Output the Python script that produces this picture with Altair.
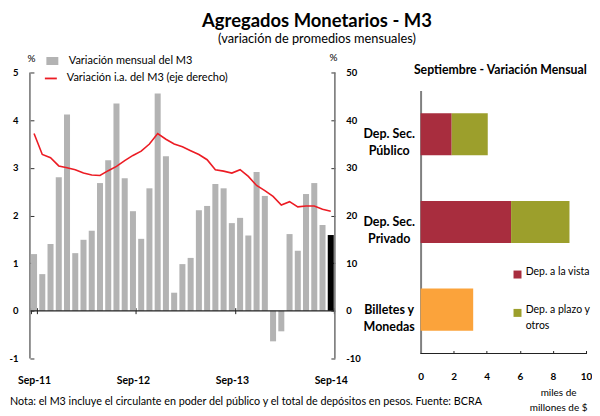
import altair as alt
import pandas as pd

FONT = "Lato"

# ---------------- data ----------------
mes_abrev = ["Sep", "Oct", "Nov", "Dic", "Ene", "Feb", "Mar", "Abr", "May", "Jun", "Jul", "Ago"]
meses = [f"{mes_abrev[i % 12]}-{11 + (i + 8) // 12}" for i in range(37)]
meses_etiqueta = ["Sep-11", "Sep-12", "Sep-13", "Sep-14"]

var_mensual = [1.19, 0.77, 1.40, 2.80, 4.12, 1.21, 1.49, 1.68, 2.68, 3.16, 4.35, 2.78,
               2.09, 1.51, 2.57, 4.56, 3.24, 0.38, 0.98, 1.11, 2.11, 2.20, 2.66, 2.57,
               1.84, 1.95, 1.58, 2.91, 2.41, -0.64, -0.43, 1.61, 1.26, 2.45, 2.68, 1.80,
               1.59]
var_ia = [37.2, 32.8, 32.1, 30.4, 30.0, 29.6, 28.9, 28.5, 28.4, 29.4, 30.3, 31.5,
          32.6, 33.5, 35.0, 37.2, 36.0, 35.0, 34.4, 33.6, 32.8, 31.7, 29.6, 29.3,
          28.9, 29.6, 28.2, 26.3, 25.2, 24.0, 22.2, 22.9, 21.8, 22.0, 22.0, 21.3,
          20.9]
serie_barras = "Variación mensual del M3"
serie_linea = "Variación i.a. del M3 (eje derecho)"

categorias = ["Dep. Sec. Público", "Dep. Sec. Privado", "Billetes y Monedas"]
componentes = ["Dep. a la vista", "Dep. a plazo y otros", "Billetes y Monedas"]
colores = ["#A82D3E", "#9C9F2C", "#FBA33B"]
dep_vista = [1.88, 5.47, 0.0]
dep_plazo = [2.18, 3.53, 0.0]
billetes = [0.0, 0.0, 3.18]
ticks_x_der = [0, 2, 4, 6, 8, 10]

nota = "Nota: el M3 incluye el circulante en poder del público y el total de depósitos en pesos. Fuente: BCRA"

df = pd.DataFrame({"mes": meses, "mensual": var_mensual, "ia": var_ia, "idx": list(range(37)),
                   "s_bar": serie_barras, "s_lin": serie_linea})

rows = []
for c, a, b, m in zip(categorias, dep_vista, dep_plazo, billetes):
    for k, (comp, v) in enumerate(zip(componentes, [a, b, m])):
        if v > 0:
            rows.append({"categoria": c, "componente": comp, "valor": v, "orden": k})
rdf = pd.DataFrame(rows)

# ---------------- left panel ----------------
x_left = alt.X(
    "mes:N", title=None,
    scale=alt.Scale(domain=meses, paddingInner=0.27, paddingOuter=0.135),
    axis=alt.Axis(values=meses_etiqueta, tickBand="extent", labelAngle=0, domain=False,
                  tickSize=6, tickColor="#222", tickWidth=1, offset=-51, labelPadding=62,
                  labelFontSize=10.5, labelFontWeight="bold", labelColor="black"),
)
y_left = alt.Y(
    "mensual:Q",
    scale=alt.Scale(domain=[-1, 5], nice=False, zero=False),
    axis=alt.Axis(values=[-1, 0, 1, 2, 3, 4, 5], labelExpr="'' + datum.value", domain=False,
                  tickSize=4, offset=-4, tickColor="#333", labelPadding=12,
                  labelFontSize=9.5, labelFontWeight="bold", labelColor="black",
                  title="%", titleAngle=0, titleX=-3, titleY=-14, titleAlign="center",
                  titleBaseline="middle", titleFontSize=10, titleFontWeight="normal"),
)

bars = alt.Chart(df).transform_filter("datum.idx < 36").mark_bar(strokeWidth=0).encode(
    x=x_left, y=y_left,
    fill=alt.Fill(
        "s_bar:N",
        scale=alt.Scale(domain=[serie_barras], range=["#B3B3B3"]),
        legend=alt.Legend(title=None, orient="none", legendX=17, legendY=-17,
                          symbolType="M-1.5,-1H1.5V1H-1.5Z", symbolSize=64,
                          labelOffset=11, labelFontSize=11, labelFont=FONT, labelLimit=300,
                          padding=0, symbolStrokeWidth=0),
    ),
)
last_bar = alt.Chart(df).transform_filter("datum.idx == 36").mark_bar(color="black").encode(
    x=x_left, y=y_left
)

zero_df = pd.DataFrame({"z": [0], "lo": [-1], "hi": [5]})
zero_line = alt.Chart(zero_df).mark_rule(color="#222", strokeWidth=1.2).encode(y="z:Q")
dom_left = alt.Chart(zero_df).mark_rule(color="#777", strokeWidth=1.6).encode(
    x=alt.value(0), y="lo:Q", y2="hi:Q")
dom_right = alt.Chart(zero_df).mark_rule(color="#777", strokeWidth=1.6).encode(
    x=alt.value(306), y="lo:Q", y2="hi:Q")

note_text = alt.Chart(pd.DataFrame({"t": [nota]})).mark_text(
    align="left", baseline="middle", fontSize=10.8, font=FONT, color="black"
).encode(x=alt.value(-20), y=alt.value(331), text="t:N")

left_inner = alt.layer(bars, last_bar, zero_line, dom_left, dom_right, note_text)

line = alt.Chart(df).mark_line(strokeWidth=1.6).encode(
    x=x_left,
    y=alt.Y("ia:Q",
            scale=alt.Scale(domain=[-10, 50], nice=False, zero=False),
            axis=alt.Axis(orient="right", values=[-10, 0, 10, 20, 30, 40, 50],
                          labelExpr="'' + datum.value", domain=False, tickSize=4, offset=-4,
                          tickColor="#333", labelPadding=11, labelFontSize=9.5,
                          labelFontWeight="bold", labelColor="black",
                          title="%", titleAngle=0, titleX=2, titleY=-15, titleAlign="center",
                          titleBaseline="middle", titleFontSize=10, titleFontWeight="normal")),
    stroke=alt.Stroke(
        "s_lin:N",
        scale=alt.Scale(domain=[serie_linea], range=["#EC1C24"]),
        legend=alt.Legend(title=None, orient="none", legendX=14, legendY=-1,
                          symbolType="stroke", symbolSize=144, symbolStrokeWidth=1.8,
                          labelOffset=9, labelFontSize=11, labelFont=FONT, labelLimit=300,
                          padding=0),
    ),
)

left = alt.layer(left_inner, line).resolve_scale(y="independent").properties(width=306, height=287)

# ---------------- right panel ----------------
lbl_expr = ("datum.label == 'Dep. Sec. Público' ? ['Dep. Sec.', 'Público'] : "
            "datum.label == 'Dep. Sec. Privado' ? ['Dep. Sec.', 'Privado'] : "
            "['Billetes y', 'Monedas']")
leg_expr = "datum.label == 'Dep. a plazo y otros' ? ['Dep. a plazo y', 'otros'] : datum.label"

x_axis_r = alt.Axis(values=ticks_x_der, format="d", domain=False, tickSize=3,
                    tickColor="#222", offset=-3, labelPadding=18, labelFontSize=10,
                    labelFontWeight="bold", labelColor="black", labelOverlap=False,
                    labelBound=False, labelFlush=False, labelSeparation=0,
                    title=["miles de", "millones de $"], titleFontSize=10,
                    titleFontWeight="normal", titleX=138, titleY=37, titleAlign="center",
                    titleBaseline="top", titleLineHeight=15)
x_scale_r = alt.Scale(domain=[0, 10], nice=False)

bars_r = alt.Chart(rdf).mark_bar(strokeWidth=0).encode(
    y=alt.Y("categoria:N", title=None,
            scale=alt.Scale(domain=categorias, range=[18, 282], paddingInner=0.52, paddingOuter=0.26),
            axis=alt.Axis(ticks=False, tickSize=0, labelPadding=32, labelAlign="center",
                          labelExpr=lbl_expr, labelFontSize=12.5, labelFontWeight="bold",
                          labelLineHeight=17, labelColor="black", domainColor="#808080",
                          domainWidth=2)),
    x=alt.X("valor:Q", stack="zero", scale=x_scale_r, axis=x_axis_r),
    color=alt.Color("componente:N", scale=alt.Scale(domain=componentes, range=colores),
                    legend=alt.Legend(values=componentes[:2], title=None, orient="none",
                                      legendX=484, legendY=197.5, symbolType="square",
                                      symbolSize=64, symbolStrokeWidth=0, labelOffset=3,
                                      labelFontSize=10.5, labelFont=FONT, labelExpr=leg_expr,
                                      labelBaseline="alphabetic",
                                      rowPadding=25.5, padding=0)),
    order=alt.Order("orden:Q"),
)
xr_df = pd.DataFrame({"a": [0], "b": [10]})
xrule = alt.Chart(xr_df).mark_rule(color="#222", strokeWidth=1.2).encode(
    x=alt.X("a:Q", scale=x_scale_r, axis=x_axis_r), x2="b:Q", y=alt.value(282))

right = alt.layer(bars_r, xrule).properties(
    width=166, height=282,
    title=alt.TitleParams("Septiembre - Variación Mensual", fontSize=12.3, fontWeight="bold",
                          anchor="start", align="center", frame="group", dx=80, offset=-14,
                          baseline="alphabetic", font=FONT, color="black"),
)

chart = alt.hconcat(left, right, spacing=86, bounds="flush").properties(
    title=alt.TitleParams(text="Agregados Monetarios - M3",
                          subtitle="(variación de promedios mensuales)",
                          anchor="start", align="center", frame="group", dx=288,
                          fontSize=18.5, fontWeight="bold", subtitleFontSize=12.8,
                          subtitlePadding=2, offset=7, font=FONT, subtitleFont=FONT,
                          color="black", subtitleColor="black"),
    padding={"left": 0, "top": 3, "right": 0, "bottom": 0},
).configure(
    font=FONT, style={"guide-label": {"lineHeight": 16}}
).configure_view(stroke=None).configure_axis(
    labelFont=FONT, titleFont=FONT, grid=False, titleColor="black"
).configure_legend(labelFont=FONT, labelColor="black")

chart.save("out.html", embed_options={"renderer": "svg", "actions": False})
